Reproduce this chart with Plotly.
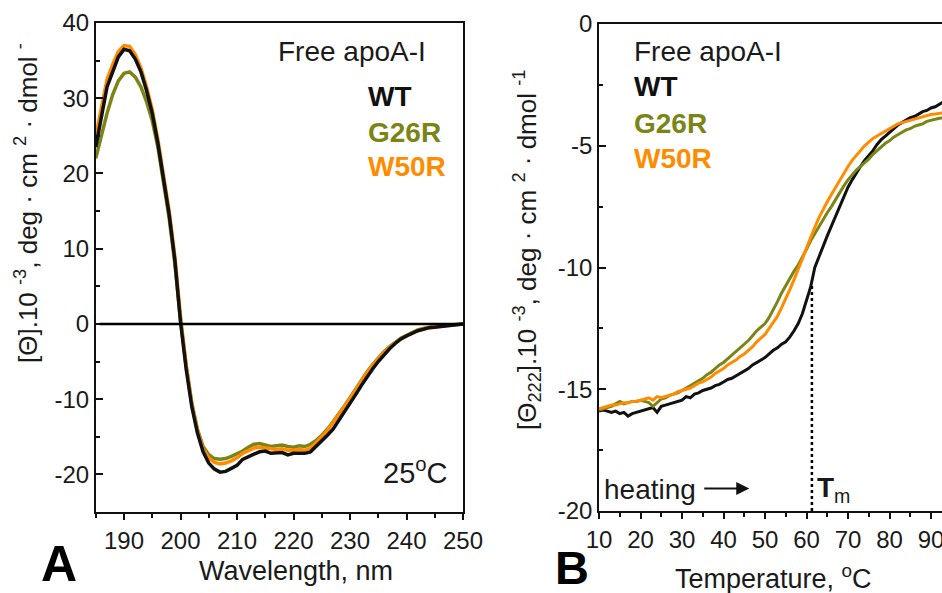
import plotly.graph_objects as go

# ---------------- Data ----------------
wavelength = list(range(185, 251))
cd_wt = [23.5, 27.5, 31.5, 33.5, 35.5, 36.5, 36.3, 35.2, 33.5, 31.0,
         28.0, 24.0, 19.5, 14.5, 8.5, 0.3, -6.0, -11.0, -14.5, -17.0,
         -18.5, -19.3, -19.7, -19.6, -19.2, -18.8, -18.0, -17.6, -17.3, -17.0,
         -16.9, -17.2, -17.2, -17.1, -17.4, -17.2, -17.2, -17.2, -17.0, -16.3,
         -15.6, -14.8, -14.0, -12.9, -11.8, -10.6, -9.4, -8.2, -7.0, -6.0,
         -5.0, -4.1, -3.3, -2.6, -2.0, -1.6, -1.2, -0.9, -0.7, -0.5,
         -0.45, -0.35, -0.25, -0.2, -0.1, 0.0]
cd_g26r = [22.0, 25.0, 28.0, 30.5, 32.3, 33.3, 33.5, 32.8, 31.5, 29.5,
           27.0, 23.5, 19.0, 14.0, 8.0, 0.5, -5.5, -10.5, -14.0, -16.3,
           -17.4, -17.9, -18.0, -17.9, -17.6, -17.3, -16.9, -16.4, -16.0, -15.9,
           -16.1, -16.3, -16.2, -16.1, -16.3, -16.4, -16.2, -16.3, -16.0, -15.5,
           -14.8, -14.0, -13.0, -12.0, -10.9, -9.8, -8.6, -7.5, -6.4, -5.4,
           -4.5, -3.7, -3.0, -2.4, -1.9, -1.5, -1.1, -0.8, -0.6, -0.4,
           -0.3, -0.25, -0.2, -0.15, -0.1, 0.0]
cd_w50r = [25.0, 29.0, 32.5, 34.5, 36.2, 37.0, 36.9, 35.8, 34.0, 31.5,
           28.5, 24.5, 20.0, 15.0, 9.0, 1.0, -5.5, -10.7, -14.2, -16.6,
           -17.8, -18.4, -18.6, -18.5, -18.2, -17.8, -17.2, -16.8, -16.5, -16.4,
           -16.5, -16.7, -16.7, -16.6, -16.8, -16.8, -16.7, -16.8, -16.5, -15.8,
           -15.0, -14.2, -13.1, -12.1, -11.0, -9.9, -8.7, -7.6, -6.5, -5.5,
           -4.6, -3.8, -3.1, -2.5, -2.0, -1.6, -1.2, -0.9, -0.65, -0.45,
           -0.35, -0.28, -0.22, -0.16, -0.1, 0.0]

temperature = list(range(10, 94))
melt_wt = [-15.9, -15.85, -15.9, -15.95, -15.9, -16.0, -15.95, -16.1, -16.0, -15.95,
           -15.9, -15.85, -15.8, -15.75, -15.95, -15.7, -15.65, -15.6, -15.55, -15.5,
           -15.45, -15.3, -15.35, -15.2, -15.15, -15.05, -15.0, -14.95, -14.85, -14.8,
           -14.7, -14.6, -14.55, -14.45, -14.35, -14.25, -14.15, -14.0, -13.9, -13.8,
           -13.7, -13.55, -13.4, -13.3, -13.15, -13.05, -12.85, -12.6, -12.3, -11.9,
           -11.3, -10.8, -10.0, -9.55, -9.1, -8.7, -8.3, -7.9, -7.5, -7.1,
           -6.7, -6.4, -6.1, -5.85, -5.6, -5.4, -5.2, -4.95, -4.75, -4.6,
           -4.45, -4.3, -4.15, -4.05, -3.95, -3.85, -3.8, -3.7, -3.6, -3.55,
           -3.45, -3.4, -3.3, -3.2]
melt_g26r = [-15.85, -15.8, -15.75, -15.7, -15.6, -15.5, -15.6, -15.55, -15.5, -15.5,
             -15.45, -15.5, -15.55, -15.7, -15.55, -15.4, -15.35, -15.25, -15.2, -15.15,
             -15.05, -14.95, -14.85, -14.75, -14.65, -14.55, -14.4, -14.3, -14.15, -14.0,
             -13.9, -13.75, -13.6, -13.45, -13.3, -13.15, -13.0, -12.8, -12.6, -12.45,
             -12.3, -12.05, -11.75, -11.4, -11.05, -10.75, -10.4, -10.15, -9.9, -9.6,
             -9.25, -8.9, -8.6, -8.3, -8.0, -7.75, -7.5, -7.2, -6.95, -6.65,
             -6.4, -6.2, -6.0, -5.85, -5.7, -5.55, -5.35, -5.2, -5.05, -4.9,
             -4.8, -4.65, -4.55, -4.45, -4.35, -4.3, -4.2, -4.15, -4.1, -4.0,
             -3.95, -3.9, -3.87, -3.85]
melt_w50r = [-15.8, -15.75, -15.7, -15.65, -15.65, -15.6, -15.55, -15.55, -15.5, -15.5,
             -15.45, -15.4, -15.35, -15.45, -15.3, -15.35, -15.3, -15.25, -15.2, -15.1,
             -15.05, -15.0, -14.95, -14.85, -14.75, -14.7, -14.6, -14.5, -14.35, -14.25,
             -14.15, -14.0, -13.9, -13.8, -13.65, -13.55, -13.4, -13.25, -13.05, -12.9,
             -12.75, -12.5, -12.25, -12.0, -11.65, -11.3, -10.9, -10.5, -10.1, -9.65,
             -9.2, -8.75, -8.35, -7.95, -7.6, -7.3, -7.0, -6.7, -6.4, -6.1,
             -5.85, -5.6, -5.4, -5.2, -5.0, -4.85, -4.7, -4.6, -4.5, -4.4,
             -4.3, -4.2, -4.1, -4.05, -4.0, -3.95, -3.9, -3.85, -3.8, -3.75,
             -3.72, -3.7, -3.68, -3.65]

tm_value = 61.3
tm_theta = -10.7

series_names = ["WT", "G26R", "W50R"]
series_colors = ["#111111", "#7b8516", "#ff8c00"]

xa_ticks = [190, 200, 210, 220, 230, 240, 250]
ya_ticks = [40, 30, 20, 10, 0, -10, -20]
xb_ticks = [10, 20, 30, 40, 50, 60, 70, 80, 90]
yb_ticks = [0, -5, -10, -15, -20]

# ---------------- Figure ----------------
W, H = 942, 593
FONT = "Liberation Sans, Arial, sans-serif"
TXT = "#1a1a1a"


def px(x):
    return x / W


def py(y):
    return 1 - y / H


fig = go.Figure()

# panel A: green, orange, then black on top
for ys, col in [(cd_g26r, series_colors[1]), (cd_w50r, series_colors[2]), (cd_wt, series_colors[0])]:
    fig.add_trace(go.Scatter(x=wavelength, y=ys, mode="lines", line=dict(color=col, width=3.5),
                             xaxis="x", yaxis="y", showlegend=False, hoverinfo="skip"))

# panel B
for ys, col in [(melt_wt, series_colors[0]), (melt_g26r, series_colors[1]), (melt_w50r, series_colors[2])]:
    fig.add_trace(go.Scatter(x=temperature, y=ys, mode="lines", line=dict(color=col, width=3),
                             xaxis="x2", yaxis="y2", showlegend=False, hoverinfo="skip"))

axis_common = dict(showgrid=False, zeroline=False, showline=True, linecolor="#111111", linewidth=1.5,
                   automargin=False, ticklabeloverflow="allow",
                   tickfont=dict(family=FONT, size=24, color=TXT), tickcolor="#111111")

fig.update_layout(
    width=W, height=H, margin=dict(l=0, r=0, t=0, b=0, autoexpand=False),
    paper_bgcolor="white", plot_bgcolor="white", showlegend=False,
    xaxis=dict(domain=[px(95.75), px(463)], range=[185, 250], anchor="y", mirror=True,
               tickmode="array", tickvals=xa_ticks, ticktext=[str(v) for v in xa_ticks],
               ticks="outside", ticklen=6, tickwidth=1.5,
               minor=dict(dtick=5, tick0=185, ticks="outside", ticklen=4, tickwidth=1.5, tickcolor="#111111"),
               **axis_common),
    yaxis=dict(domain=[py(512), py(23)], range=[-25, 40], anchor="x", mirror=True,
               tickmode="array", tickvals=ya_ticks, ticktext=[str(v) for v in ya_ticks],
               ticks="inside", ticklen=7, tickwidth=1.5,
               minor=dict(dtick=5, tick0=0, ticks="inside", ticklen=4, tickwidth=1.5, tickcolor="#111111"),
               **axis_common),
    xaxis2=dict(domain=[px(599), 1.0], range=[10, 92.65], anchor="y2", mirror=True,
                tickmode="array", tickvals=xb_ticks, ticktext=[str(v) for v in xb_ticks],
                ticks="outside", ticklen=6, tickwidth=1.5,
                minor=dict(dtick=5, tick0=10, ticks="outside", ticklen=4, tickwidth=1.5, tickcolor="#111111"),
                **axis_common),
    yaxis2=dict(domain=[py(511), py(24)], range=[-20, 0], anchor="x2", mirror=False,
                tickmode="array", tickvals=yb_ticks, ticktext=[str(v) for v in yb_ticks],
                ticks="inside", ticklen=7, tickwidth=1.5,
                minor=dict(dtick=2.5, tick0=0, ticks="inside", ticklen=4, tickwidth=1.5, tickcolor="#111111"),
                **axis_common),
)

# zero line in panel A
fig.add_shape(type="line", xref="x", yref="y", x0=185.7, x1=250, y0=0, y1=0,
              line=dict(color="#000000", width=2.5), layer="above")
# Tm dotted line in panel B
fig.add_shape(type="line", xref="x2", yref="y2", x0=tm_value, x1=tm_value, y0=-20, y1=tm_theta,
              line=dict(color="#000000", width=2.5, dash="dot"), layer="above")

anns = []


def txt(x, y, s, size=28, color=TXT, xanchor="left", angle=0):
    anns.append(dict(xref="paper", yref="paper", x=px(x), y=py(y), text=s, showarrow=False,
                     xanchor=xanchor, yanchor="middle", textangle=angle,
                     font=dict(family=FONT, size=size, color=color)))


# Panel A texts
txt(276, 51, "Free apoA-I", 28)
txt(366, 96, "<b>WT</b>", 28, series_colors[0])
txt(366, 132, "<b>G26R</b>", 28, series_colors[1])
txt(366, 167, "<b>W50R</b>", 28, series_colors[2])
txt(381, 471, "25<sup>o</sup>C", 29)
# Panel B texts
txt(632, 51, "Free apoA-I", 28)
txt(632, 87, "<b>WT</b>", 28, series_colors[0])
txt(632, 123, "<b>G26R</b>", 28, series_colors[1])
txt(632, 158, "<b>W50R</b>", 28, series_colors[2])
txt(602, 489, "heating", 28)
txt(815, 489, "<b>T</b><sub>m</sub>", 28)

# axis titles
txt(296, 571, "Wavelength, nm", 27, xanchor="center")
txt(773, 577, "Temperature, <sup>o</sup>C", 27, xanchor="center")
txt(26, 203, "[Θ].10 <sup>-3</sup>, deg · cm <sup>2</sup> · dmol <sup>-</sup>", 26, xanchor="center", angle=-90)
txt(527, 250, "[Θ<sub>222</sub>].10 <sup>-3</sup>, deg · cm <sup>2</sup> · dmol <sup>-1</sup>", 26, xanchor="center", angle=-90)

# panel letters
txt(59, 564, "<b>A</b>", 50, "#000000", xanchor="center")
txt(572, 567, "<b>B</b>", 47, "#000000", xanchor="center")

# heating arrow
anns.append(dict(xref="x2", yref="y2", x=46.2, y=-19.08, ax=35.0, ay=-19.08, axref="x2", ayref="y2",
                 showarrow=True, arrowhead=2, arrowsize=1.3, arrowwidth=2, arrowcolor="#111111", text=""))

fig.update_layout(annotations=anns)

fig.write_html("out.html", config={"displayModeBar": False},
               post_script="document.body.style.margin='0';document.body.style.overflow='hidden';")
